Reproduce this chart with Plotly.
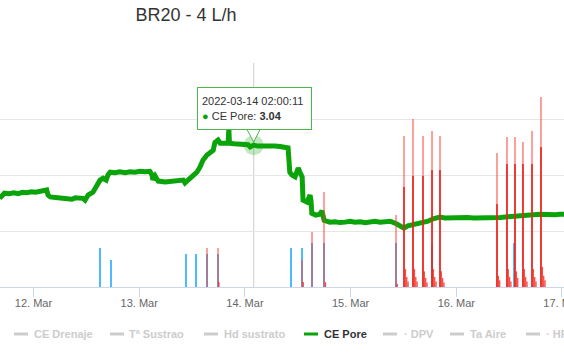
import pandas as pd
import plotly.graph_objects as go

# ---------------- data (hours after 2022-03-12 00:00) ----------------
BASE = pd.Timestamp("2022-03-12 00:00:00")

ce_pore_hours = [
    -7.7, -7.0, -6.6, -5.5, -4.5, -3.5, -2.5, -1.5, -0.5, 0.5,
    1.5, 2.2, 3.0, 3.3, 3.8, 5.0, 6.0, 7.0, 8.0, 8.7,
    9.5, 10.5, 11.2, 11.7, 12.4, 13.5, 14.4, 15.1, 15.8, 16.5,
    16.9, 17.4, 18.5, 19.6, 20.8, 21.9, 23.0, 24.2, 25.3, 26.4,
    26.9, 27.1, 27.6, 28.3, 29.9, 31.0, 32.1, 33.0, 34.0, 34.4,
    35.5, 36.2, 37.1, 37.8, 38.5, 39.4, 40.1, 40.8, 41.2, 41.9,
    42.4, 43.5, 44.2, 44.35, 44.5, 45.5, 46.9, 48.0, 48.7, 49.2,
    50.003, 51.0, 52.6, 53.7, 54.8, 56.0, 57.1, 57.8, 58.2, 58.7,
    59.4, 60.1, 60.5, 61.0, 61.2, 62.1, 62.8, 63.0, 63.2, 64.1,
    65.0, 65.5, 66.0, 67.3, 68.5, 69.6, 70.7, 71.9, 73.0, 74.2,
    75.3, 76.4, 77.5, 78.7, 79.8, 81.0, 82.5, 83.5, 84.1, 85.0,
    86.2, 87.3, 88.4, 89.6, 90.7, 92.3, 93.4, 95.0, 96.8, 98.5,
    100.0, 101.4, 103.0, 104.5, 105.2, 106.1, 107.1, 108.0, 108.9, 109.7,
    110.5, 111.3, 112.1, 113.5, 115.0, 116.0, 117.3, 118.5, 119.5, 120.6,
]
ce_pore_values = [
    1.90, 1.97, 2.01, 2.00, 2.02, 2.00, 2.03, 2.02, 2.04, 2.03,
    2.05, 2.06, 2.08, 1.97, 1.93, 1.92, 1.91, 1.92, 1.91, 1.88,
    1.91, 1.91, 1.90, 1.86, 1.97, 2.03, 2.18, 2.29, 2.33, 2.29,
    2.40, 2.46, 2.45, 2.47, 2.45, 2.47, 2.46, 2.48, 2.47, 2.48,
    2.40, 2.30, 2.38, 2.27, 2.25, 2.26, 2.25, 2.26, 2.29, 2.23,
    2.33, 2.40, 2.46, 2.57, 2.72, 2.83, 2.89, 2.93, 3.10, 3.15,
    3.08, 3.09, 3.08, 3.40, 3.08, 3.07, 3.05, 3.04, 3.05, 3.00,
    3.04, 3.02, 3.03, 3.02, 3.02, 3.01, 3.00, 2.98, 2.46, 2.40,
    2.36, 2.55, 2.46, 2.36, 1.86, 1.82, 1.97, 1.86, 1.58, 1.54,
    1.56, 1.63, 1.43, 1.39, 1.40, 1.38, 1.39, 1.41, 1.39, 1.40,
    1.38, 1.39, 1.41, 1.39, 1.40, 1.41, 1.35, 1.28, 1.26, 1.31,
    1.33, 1.37, 1.39, 1.41, 1.46, 1.50, 1.48, 1.49, 1.48, 1.49,
    1.48, 1.48, 1.47, 1.48, 1.47, 1.49, 1.50, 1.51, 1.52, 1.52,
    1.54, 1.55, 1.56, 1.55, 1.56, 1.55, 1.56, 1.55, 1.56, 1.56,
]

# blue events (height in % of plot height)
blue_hours = [15.10, 17.60, 34.63, 36.90, 39.40, 41.90, 58.47, 60.97,
              63.24, 65.96, 82.31, 90.49, 109.10]
blue_values = [17.4, 12.1, 14.7, 14.7, 14.7, 14.7, 17.4, 17.4,
               19.6, 19.6, 19.6, 19.6, 19.6]

# red events: tall spikes
red_hours = [39.40, 41.90, 60.97, 63.24, 65.96, 82.31, 84.13, 86.17, 88.44,
             90.49, 92.30, 105.24, 107.51, 109.33, 111.14, 113.19, 115.23]
red_values = [17.4, 17.4, 12.1, 24.6, 42.4, 32.1, 67.4, 75.0, 67.4,
              69.6, 67.4, 59.8, 67.0, 67.0, 64.7, 69.6, 84.8]

# red events: second (middle) level
red_mid_hours = [84.13, 86.17, 88.44, 90.49, 92.30, 105.24, 107.51,
                 109.33, 111.14, 113.19, 115.23]
red_mid_values = [44.6, 49.6, 49.6, 52.2, 52.2, 37.1, 54.9,
                  54.9, 54.9, 54.9, 62.5]

# red events: small trailing bars
red_tail_hours = [42.1, 61.25, 66.3, 82.6,
                  84.45, 84.75, 85.05, 86.5, 86.8, 87.1, 88.75, 89.05, 89.35,
                  90.8, 91.1, 91.4, 92.6, 92.9, 93.2,
                  105.55, 105.85, 107.8, 108.1, 108.4, 109.65, 109.95,
                  111.45, 111.75, 112.05, 113.5, 113.8, 114.1,
                  115.55, 115.85, 116.15]
red_tail_values = [2.2, 2.2, 2.2, 1.5,
                   8.0, 4.5, 2.5, 8.0, 4.5, 2.5, 7.0, 4.0, 2.0,
                   8.0, 4.5, 2.5, 7.0, 4.0, 2.0,
                   5.0, 3.0, 8.0, 4.5, 2.5, 7.0, 4.0,
                   8.0, 4.5, 2.5, 8.0, 4.5, 2.5,
                   9.0, 5.0, 3.0]

tooltip_hour = 50.003
tooltip_value = 3.04
tooltip_time_label = "2022-03-14 02:00:11"

legend_labels = ["CE Drenaje", "Tª Sustrao", "Hd sustrato", "CE Pore",
                 "· DPV", "Ta Aire", "· HR"]
legend_active = [False, False, False, True, False, False, False]

title_text = "BR20 - 4 L/h"


def t(hours):
    return [BASE + pd.Timedelta(hours=h) for h in hours]


# ---------------- styling / layout ----------------
W, H = 564, 361
PLOT_TOP, PLOT_BOTTOM = 63, 287
FONT = "Liberation Sans, Arial, sans-serif"
GREEN = "#0aa40a"


def px_x(px):
    return px / W


def px_y(py):
    return (PLOT_BOTTOM - py) / (PLOT_BOTTOM - PLOT_TOP)


fig = go.Figure()

fig.add_trace(go.Scatter(
    x=t(ce_pore_hours), y=ce_pore_values, mode="lines",
    line=dict(color=GREEN, width=5), yaxis="y", hoverinfo="skip",
))
fig.add_trace(go.Scatter(
    x=t([tooltip_hour]), y=[tooltip_value], mode="markers",
    marker=dict(size=20, color="rgba(10,164,10,0.25)"), yaxis="y",
    hoverinfo="skip",
))
fig.add_trace(go.Bar(
    x=t(blue_hours), y=blue_values, width=1.6e6, yaxis="y2",
    marker=dict(color="#4dbbff", line=dict(width=0)), hoverinfo="skip",
))
fig.add_trace(go.Bar(
    x=t(red_hours), y=red_values, width=1.1e6, yaxis="y2",
    marker=dict(color="rgba(250,60,50,0.72)", line=dict(width=0)),
    hoverinfo="skip",
))
fig.add_trace(go.Bar(
    x=t(red_mid_hours), y=red_mid_values, width=1.5e6, yaxis="y2",
    marker=dict(color="rgba(235,30,25,0.85)", line=dict(width=0)),
    hoverinfo="skip",
))
fig.add_trace(go.Bar(
    x=t(red_tail_hours), y=red_tail_values, width=1.1e6, yaxis="y2",
    marker=dict(color="rgba(240,40,30,0.8)", line=dict(width=0)),
    hoverinfo="skip",
))

x_start = BASE + pd.Timedelta(hours=-7.607)
x_end = BASE + pd.Timedelta(hours=120.457)

shapes = [
    dict(type="line", xref="x", yref="paper",
         x0=t([tooltip_hour])[0], x1=t([tooltip_hour])[0], y0=0, y1=1,
         line=dict(color="#cccccc", width=1), layer="below"),
    dict(type="path", xref="paper", yref="paper",
         path=f"M {px_x(247)},{px_y(129.5)} L {px_x(253.7)},{px_y(142)} "
              f"L {px_x(260)},{px_y(129.5)} Z",
         fillcolor="rgba(255,255,255,0.95)",
         line=dict(color="#4cb84c", width=1)),
]

annotations = [
    dict(xref="paper", yref="paper", x=px_x(197), y=px_y(87),
         xanchor="left", yanchor="top", showarrow=False, align="left",
         text=(f"{tooltip_time_label}<br>"
               f"<span style='color:{GREEN}'>●</span> CE Pore: "
               f"<b>{tooltip_value:.2f}</b>"),
         font=dict(family=FONT, size=11, color="#333333"),
         bgcolor="rgba(255,255,255,0.95)", bordercolor="#4cb84c",
         borderwidth=1, borderpad=4, width=105, height=33),
]

# legend (manual, Highcharts style)
legend_line_x = [14, 110, 204, 304, 383, 450, 526]
legend_text_x = [33, 128, 223, 323, 403, 469, 545]
LEG_Y = 334
for label, active, lx, tx in zip(legend_labels, legend_active,
                                 legend_line_x, legend_text_x):
    col = GREEN if active else "#cccccc"
    shapes.append(dict(type="line", xref="paper", yref="paper",
                       x0=px_x(lx), x1=px_x(lx + 14),
                       y0=px_y(LEG_Y), y1=px_y(LEG_Y),
                       line=dict(color=col, width=3)))
    annotations.append(dict(
        xref="paper", yref="paper", x=px_x(tx), y=px_y(LEG_Y),
        xanchor="left", yanchor="middle", showarrow=False,
        text=f"<b>{label}</b>", borderpad=0,
        font=dict(family=FONT, size=11,
                  color="#333333" if active else "#cccccc"),
    ))

fig.update_layout(
    width=W, height=H, autosize=False,
    margin=dict(l=0, r=0, t=PLOT_TOP, b=H - PLOT_BOTTOM, pad=0,
                autoexpand=False),
    paper_bgcolor="white", plot_bgcolor="white",
    showlegend=False, barmode="overlay",
    font=dict(family=FONT, color="#333333"),
    title=dict(text=title_text, x=186 / W, xanchor="center",
               y=1 - 15 / H, yanchor="middle",
               font=dict(family=FONT, size=18, color="#333333")),
    xaxis=dict(type="date", range=[x_start, x_end], automargin=False,
               tick0="2022-03-12", dtick=86400000, tickformat="%-d. %b",
               ticks="outside", ticklen=9, tickcolor="#ccd6eb",
               showline=True, linecolor="#ccd6eb", linewidth=1,
               showgrid=False, zeroline=False, ticklabeloverflow="allow",
               ticklabelstandoff=-3,
               tickfont=dict(family=FONT, size=11, color="#666666")),
    yaxis=dict(range=[0, 4.8], tickmode="array", automargin=False,
               tickvals=[0, 1.2, 2.4, 3.6, 4.8], showticklabels=False,
               gridcolor="#e6e6e6", gridwidth=1, zeroline=False,
               ticks=""),
    yaxis2=dict(range=[0, 100], overlaying="y", visible=False),
    shapes=shapes, annotations=annotations,
)

fig.write_html(
    "out.html",
    config={"displayModeBar": False},
    post_script="document.body.style.margin='0';"
                "document.body.style.overflow='hidden';",
)
